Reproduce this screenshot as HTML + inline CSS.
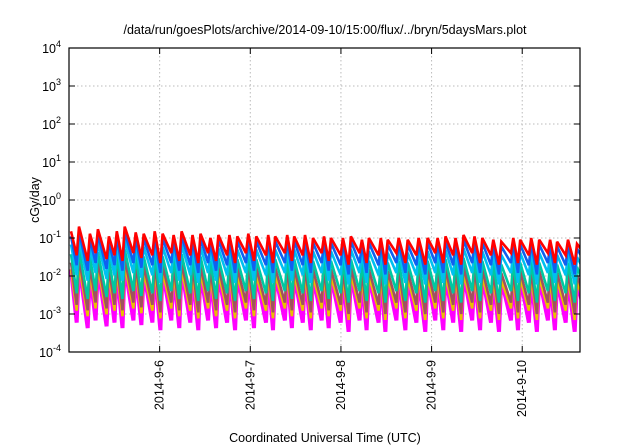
<!DOCTYPE html>
<html><head><meta charset="utf-8">
<style>
html,body{margin:0;padding:0;background:#fff;}
svg{display:block;font-family:"Liberation Sans",sans-serif;}
</style></head>
<body>
<svg id="chart" width="640" height="448" viewBox="0 0 640 448">
<text x="325" y="34" font-size="12.5" text-anchor="middle" fill="#000">/data/run/goesPlots/archive/2014-09-10/15:00/flux/../bryn/5daysMars.plot</text>
<text x="325" y="442" font-size="12.5" text-anchor="middle" fill="#000">Coordinated Universal Time (UTC)</text>
<text transform="translate(39,200) rotate(-90)" font-size="12.5" text-anchor="middle" fill="#000">cGy/day</text>
<g id="grid"></g>
<g id="series"></g>
<g id="axes"></g>
</svg>
<script>
// data: peak times in days since 2014-09-05 00:00 UTC
const peakDays = [0.022,0.110,0.231,0.319,0.440,0.527,0.615,0.736,0.824,0.945,1.033,1.154,1.242,1.363,1.451,1.560,1.648,1.769,1.857,1.978,2.066,2.198,2.275,2.407,2.484,2.604,2.692,2.813,2.890,3.022,3.110,3.231,3.308,3.440,3.516,3.637,3.736,3.857,3.956,4.066,4.154,4.264,4.352,4.473,4.560,4.681,4.769,4.901,4.978,5.099,5.187,5.308,5.385,5.505,5.604];
const redPeaks = [0.15,0.2,0.13,0.17,0.11,0.15,0.2,0.14,0.13,0.15,0.13,0.12,0.15,0.12,0.13,0.1,0.12,0.12,0.11,0.13,0.11,0.12,0.11,0.12,0.11,0.12,0.1,0.11,0.1,0.1,0.11,0.09,0.1,0.1,0.09,0.1,0.09,0.1,0.1,0.1,0.11,0.1,0.12,0.11,0.1,0.09,0.08,0.1,0.09,0.1,0.09,0.09,0.08,0.09,0.07];
const redTroughs = [0.035,0.025,0.04,0.028,0.035,0.025,0.04,0.03,0.035,0.022,0.04,0.025,0.035,0.022,0.04,0.025,0.035,0.022,0.04,0.025,0.035,0.022,0.04,0.025,0.035,0.022,0.04,0.025,0.035,0.02,0.04,0.022,0.035,0.02,0.04,0.022,0.035,0.02,0.04,0.022,0.035,0.02,0.04,0.022,0.035,0.02,0.04,0.022,0.035,0.02,0.04,0.022,0.035,0.02,0.03];
const seriesNames = ["magenta","yellow","brown","teal","cyan","blue","red"];
const seriesColors = ["#ff00ff","#e8c000","#a05060","#00c8a0","#00c0f0","#1060f0","#ff0000"];
const peakFactors = [0.1,0.1,0.15,0.25,0.45,0.75,1];
const troughFactors = [0.017,0.035,0.05,0.1,0.3,0.55,1];
const yTicks = [-4,-3,-2,-1,0,1,2,3,4];
const xTickDays = [1,2,3,4,5];
const xTickLabels = ["2014-9-6","2014-9-7","2014-9-8","2014-9-9","2014-9-10"];

const L=69,R=580,T=48,B=352, D0=0.0, D1=(580-158)/91+1;
const xs=d=>L+(d-D0)/(D1-D0)*(R-L);
const ys=v=>B-(Math.log10(v)+4)/8*(B-T);
const NS="http://www.w3.org/2000/svg";
function mk(tag,attrs,parent){const e=document.createElementNS(NS,tag);for(const k in attrs)e.setAttribute(k,attrs[k]);parent.appendChild(e);return e;}
const grid=document.getElementById('grid'),axes=document.getElementById('axes'),ser=document.getElementById('series');

yTicks.forEach(p=>{
  const y=B-(p+4)/8*(B-T);
  if(p>-4&&p<4){const g=mk('line',{x1:L,x2:R,y1:y,y2:y,stroke:'#bbb','stroke-dasharray':'1.5,2.5','stroke-width':1},grid);
  
  }
  const t1=mk('line',{x1:L,x2:L+6,y1:y,y2:y,stroke:'#000'},axes);
  
  
  const t2=mk('line',{x1:R-6,x2:R,y1:y,y2:y,stroke:'#000'},axes);
  
  
  const tx=mk('text',{x:L-8,y:y+5,'font-size':12.5,'text-anchor':'end'},axes);
  tx.innerHTML='10<tspan dy="-6" font-size="9">'+p+'</tspan>';
  
  
});
xTickDays.forEach((d,i)=>{
  const x=xs(d);
  const g=mk('line',{x1:x,x2:x,y1:T,y2:B,stroke:'#bbb','stroke-dasharray':'1.5,2.5','stroke-width':1},grid);
  
  
  const t1=mk('line',{x1:x,x2:x,y1:B-6,y2:B,stroke:'#000'},axes);
  
  
  const t2=mk('line',{x1:x,x2:x,y1:T,y2:T+6,stroke:'#000'},axes);
  
  
  const tx=mk('text',{transform:`translate(${x+4},360) rotate(-90)`,'font-size':12.5,'text-anchor':'end'},axes);
  tx.textContent=xTickLabels[i];
  
  
});
const frame=mk('rect',{x:L,y:T,width:R-L,height:B-T,fill:'none',stroke:'#000','stroke-width':1.2},axes);



const clip=mk('clipPath',{id:'pc'},document.getElementById('chart'));
mk('rect',{x:L,y:T,width:R-L,height:B-T},clip);
ser.setAttribute('clip-path','url(#pc)');

seriesNames.forEach((n,k)=>{
  let pts=[];
  for(let i=0;i<peakDays.length;i++){
    pts.push([xs(peakDays[i]),ys(redPeaks[i]*peakFactors[k])]);
    const nd=i+1<peakDays.length?peakDays[i+1]-0.025:peakDays[i]+0.12;
    pts.push([xs(nd),ys(redTroughs[i]*troughFactors[k])]);
  }
  const p=mk('polyline',{points:pts.map(q=>q[0].toFixed(1)+','+q[1].toFixed(1)).join(' '),fill:'none',stroke:seriesColors[k],'stroke-width':k===0?4:2.6,'stroke-linejoin':'miter','stroke-miterlimit':3},ser);
  
  
});
</script>
</body></html>
